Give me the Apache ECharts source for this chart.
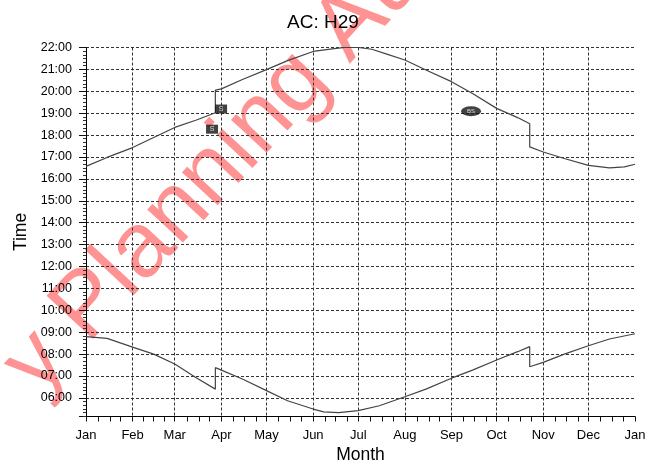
<!DOCTYPE html>
<html><head><meta charset="utf-8">
<script src="https://cdn.jsdelivr.net/npm/echarts@6/dist/echarts.min.js"></script>
<style>html,body{margin:0;padding:0;background:#fff}#c{width:646px;height:463px}</style>
</head><body><div id="c"></div>
<script>
// ---- data ----
const titleText = 'AC: H29';
const monthLabels = ['Jan','Feb','Mar','Apr','May','Jun','Jul','Aug','Sep','Oct','Nov','Dec','Jan'];
const monthStarts = [0,31,59,90,120,151,181,212,243,273,304,334,365];
// upper curve (evening)
const sunsetDays  = [0,14,31,45,59,73,86,86,90,104,120,134,151,165,172,181,190,200,212,226,243,257,273,287,295,295,304,318,334,348,358,365];
const sunsetHours = [16.57,16.98,17.43,17.89,18.35,18.68,19.02,20.05,20.11,20.54,20.99,21.40,21.82,21.95,22.0,22.0,21.92,21.70,21.43,20.97,20.44,19.90,19.22,18.80,18.52,17.46,17.23,16.93,16.62,16.50,16.55,16.67];
// lower curve (morning)
const sunriseDays  = [0,14,31,45,59,73,86,86,90,104,120,134,151,158,168,181,195,212,226,243,257,273,287,295,295,304,318,334,348,365];
const sunriseHours = [8.80,8.72,8.32,8.00,7.55,6.93,6.40,7.38,7.27,6.86,6.33,5.87,5.49,5.36,5.33,5.42,5.64,6.05,6.40,6.90,7.27,7.73,8.11,8.34,7.42,7.62,8.00,8.38,8.69,8.93];
// annotation markers
const boxDays = [89.8, 83.8];
const boxHours = [19.19, 18.27];
const ovalDays = [256];
const ovalHours = [19.09];
const yMin = 5.15, yMax = 22;
const watermarkText = 'y Planning Au';

// ---- build ----
const zip = (a, b) => a.map((v, i) => [v, b[i]]);
const dayCats = Array.from({length: 366}, (_, i) => String(i));
const tickSet = new Set();
for (let m = 0; m < 12; m++) {
  const s = monthStarts[m], L = monthStarts[m+1] - s;
  for (let k = 0; k < 4; k++) tickSet.add(s + Math.round(L * k / 4));
}
tickSet.add(365);
const FONT = 'Liberation Sans, Arial, sans-serif';

const chart = echarts.init(document.getElementById('c'));
chart.setOption({
  animation: false,
  backgroundColor: '#fff',
  title: {
    text: titleText, left: 'center', top: 8,
    textStyle: {fontSize: 19, fontWeight: 'normal', color: '#000', fontFamily: FONT}
  },
  graphic: [{
    type: 'text', x: 214, y: 172, rotation: 47 * Math.PI / 180, z: 0, silent: true,
    style: {text: watermarkText, font: '92px ' + FONT, fill: 'rgba(255,40,40,0.5)',
            textAlign: 'center', textVerticalAlign: 'middle'}
  }],
  grid: {left: 86, right: 11, top: 47.5, bottom: 46.5, containLabel: false, outerBoundsMode: 'none'},
  xAxis: [{
    type: 'value', min: 0, max: 365, show: false, position: 'bottom'
  }, {
    type: 'category', data: dayCats, boundaryGap: false, position: 'bottom',
    name: 'Month', nameLocation: 'middle', nameGap: 27,
    nameTextStyle: {fontSize: 17.5, color: '#000', fontFamily: FONT},
    axisLine: {show: true, lineStyle: {color: '#000', width: 1}},
    axisTick: {show: true, inside: false, length: 5, interval: (i) => tickSet.has(i),
               lineStyle: {color: '#111'}},
    axisLabel: {interval: (i) => monthStarts.includes(i), margin: 12,
                formatter: (v) => { const k = monthStarts.indexOf(+v); return k >= 0 ? monthLabels[k] : ''; },
                fontSize: 13, color: '#000', fontFamily: FONT},
    splitLine: {show: true, interval: (i) => monthStarts.includes(i) && i > 0 && i < 365,
                lineStyle: {color: '#333', width: 1, type: [3, 2]}}
  }],
  yAxis: {
    type: 'value', min: yMin, max: yMax, minInterval: 1, maxInterval: 1, splitNumber: 17,
    name: 'Time', nameLocation: 'middle', nameGap: 56,
    nameTextStyle: {fontSize: 17.5, color: '#000', fontFamily: FONT},
    axisLine: {show: true, lineStyle: {color: '#000', width: 1}},
    axisTick: {show: true, length: 7, lineStyle: {color: '#111'}},
    minorTick: {show: true, splitNumber: 6, length: 3, lineStyle: {color: '#333'}},
    axisLabel: {margin: 14, fontSize: 12.5, color: '#000', fontFamily: FONT,
                formatter: (v) => Number.isInteger(v) ? (v < 10 ? '0' : '') + v + ':00' : ''},
    splitLine: {show: true, lineStyle: {color: '#333', width: 1, type: [3, 2]}}
  },
  series: [{
    type: 'line', xAxisIndex: 0, data: zip(sunsetDays, sunsetHours), showSymbol: false,
    lineStyle: {color: '#444', width: 1.2}, z: 3
  }, {
    type: 'line', xAxisIndex: 0, data: zip(sunriseDays, sunriseHours), showSymbol: false,
    lineStyle: {color: '#444', width: 1.2}, z: 3
  }, {
    type: 'scatter', xAxisIndex: 0, data: zip(boxDays, boxHours), symbol: 'rect', symbolSize: [12, 9],
    itemStyle: {color: '#111'}, z: 4,
    label: {show: true, position: 'inside', formatter: 'S', color: '#fff', fontSize: 7}
  }, {
    type: 'scatter', xAxisIndex: 0, data: zip(ovalDays, ovalHours), symbol: 'circle', symbolSize: [20, 10],
    itemStyle: {color: '#111'}, z: 4,
    label: {show: true, position: 'inside', formatter: 'BS', color: '#fff', fontSize: 6}
  }]
});
</script></body></html>
